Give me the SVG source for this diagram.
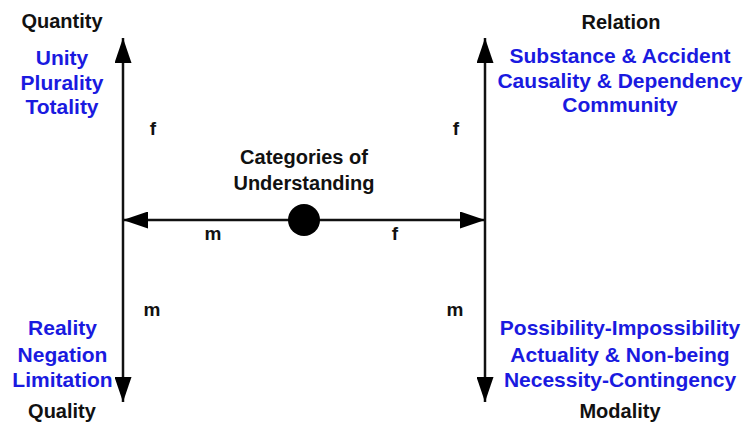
<svg xmlns="http://www.w3.org/2000/svg" width="747" height="426" viewBox="0 0 747 426">
<style>
text{font-family:"Liberation Sans",Arial,sans-serif;font-weight:bold;text-anchor:middle}
.h{font-size:20px;fill:#111}
.b{font-size:21px;fill:#1a1ae0}
.l{font-size:19px;fill:#111}
.ln{stroke:#111;stroke-width:2.5;fill:none}
</style>
<defs>
<marker id="ah" viewBox="0 0 25 17" refX="25" refY="8.5" markerWidth="25" markerHeight="17" orient="auto-start-reverse" markerUnits="userSpaceOnUse">
<path d="M0,0 L25,8.5 L0,17 z" fill="#000"/>
</marker>
</defs>
<rect width="747" height="426" fill="#fff"/>
<g id="connectors">
<line class="ln" x1="123" y1="220" x2="123" y2="38" marker-end="url(#ah)"/>
<line class="ln" x1="123" y1="220" x2="123" y2="402" marker-end="url(#ah)"/>
<line class="ln" x1="485" y1="220" x2="485" y2="38" marker-end="url(#ah)"/>
<line class="ln" x1="485" y1="220" x2="485" y2="402" marker-end="url(#ah)"/>
<line class="ln" x1="304" y1="220" x2="123" y2="220" marker-end="url(#ah)"/>
<line class="ln" x1="304" y1="220" x2="485" y2="220" marker-end="url(#ah)"/>
<text class="l" x="153" y="135">f</text>
<text class="l" x="456" y="135">f</text>
<text class="l" x="213" y="240">m</text>
<text class="l" x="395" y="240">f</text>
<text class="l" x="152" y="316">m</text>
<text class="l" x="455" y="316">m</text>
</g>
<g id="center">
<circle cx="304" cy="220" r="16" fill="#000"/>
<text class="h" x="304" y="164">Categories of</text>
<text class="h" x="304" y="190">Understanding</text>
</g>
<g id="quantity">
<text class="h" x="62" y="28">Quantity</text>
<text class="b" x="62" y="65">Unity</text>
<text class="b" x="62" y="89.5">Plurality</text>
<text class="b" x="62" y="114">Totality</text>
</g>
<g id="relation">
<text class="h" x="621" y="29">Relation</text>
<text class="b" x="620" y="63">Substance &amp; Accident</text>
<text class="b" x="620" y="88">Causality &amp; Dependency</text>
<text class="b" x="620" y="112">Community</text>
</g>
<g id="quality">
<text class="b" x="62.5" y="335">Reality</text>
<text class="b" x="62.5" y="362">Negation</text>
<text class="b" x="62.5" y="387">Limitation</text>
<text class="h" x="62" y="418">Quality</text>
</g>
<g id="modality">
<text class="b" x="620" y="335">Possibility-Impossibility</text>
<text class="b" x="620" y="362">Actuality &amp; Non-being</text>
<text class="b" x="620" y="387">Necessity-Contingency</text>
<text class="h" x="620" y="418">Modality</text>
</g>
</svg>
